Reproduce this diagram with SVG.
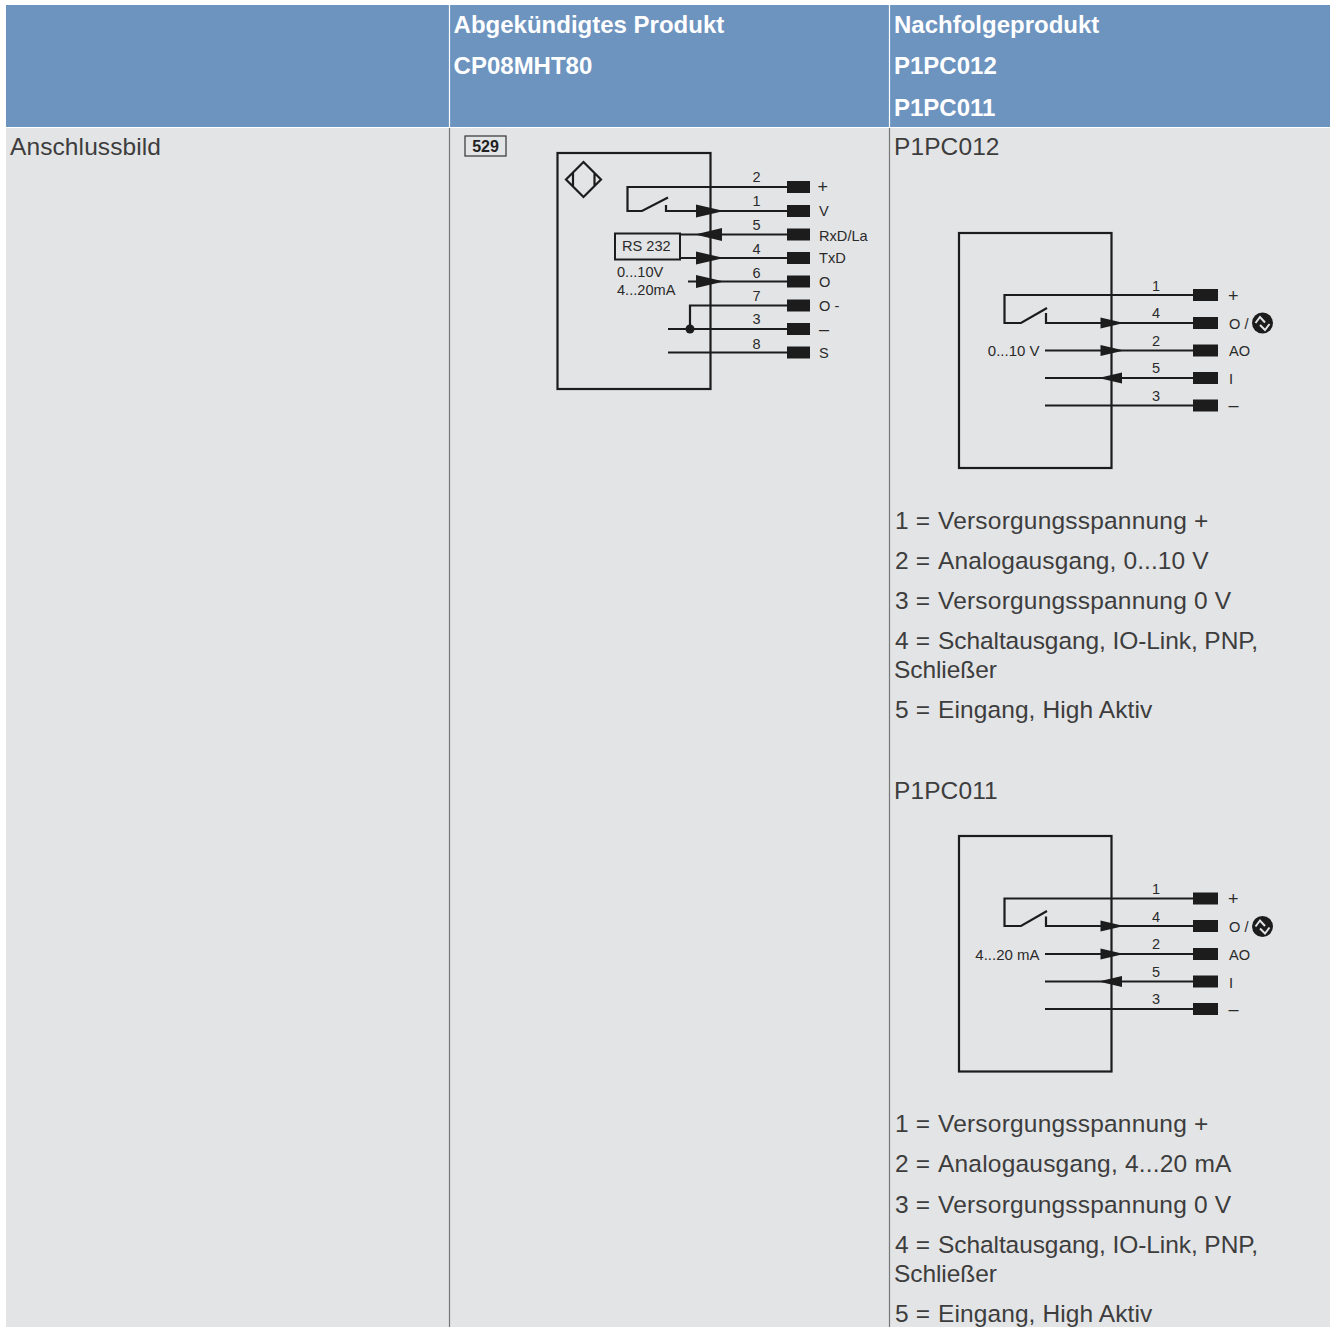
<svg xmlns="http://www.w3.org/2000/svg" width="1337" height="1327" viewBox="0 0 1337 1327">
<style>
text{font-family:"Liberation Sans",Arial,sans-serif}
.h{font-size:24px;font-weight:700;fill:#fff}
.b{font-size:24.5px;fill:#3d3d3d;letter-spacing:.1px}
.e{letter-spacing:.2px}
.c{letter-spacing:-.08px}
.s{font-size:14.6px;fill:#2a2a2a}
.r{font-size:15px;fill:#2a2a2a;text-anchor:end}
.big{font-size:18px;fill:#2a2a2a}
.n{font-size:14.5px;fill:#2a2a2a;text-anchor:middle}
.w{fill:none;stroke:#1c1c1c;stroke-width:2.200}
.p{fill:#1c1c1c;stroke:none}
.z{fill:none;stroke:#e3e4e6;stroke-width:2}
</style>
<g id="table">
<rect x="0" y="0" width="1337" height="1327" fill="#fff"/>
<rect x="6" y="5" width="1324" height="122" fill="#6d93bf"/>
<rect x="6" y="128" width="1324" height="1199" fill="#e3e4e6"/>
<path d="M449.500 5V127M889.500 5V127" stroke="#fff" stroke-width="1.200"/>
<path d="M449.500 128V1327M889.500 128V1327" stroke="#777" stroke-width="1.200"/>
<text class="h" x="453.600" y="33">Abgekündigtes Produkt</text>
<text class="h" x="453.600" y="74">CP08MHT80</text>
<text class="h" x="894" y="33">Nachfolgeprodukt</text>
<text class="h" x="894" y="74">P1PC012</text>
<text class="h" x="894" y="116">P1PC011</text>
<text class="b" x="10" y="155">Anschlussbild</text>
</g>
<g id="badge-529">
<rect x="465" y="136" width="41" height="20" fill="none" stroke="#333" stroke-width="1.200"/>
<text x="485.500" y="151.500" font-size="16" font-weight="700" fill="#222" text-anchor="middle">529</text>
</g>
<g id="old-product-diagram">
<rect class="w" x="557.500" y="153" width="153" height="236"/>
<path class="w" stroke-width="2.500" d="M583.500 162L601 179.500L583.500 197L566 179.500ZM573 172.500V186.500M594.500 172.500V186.500"/>
<g class="connectors">
<path class="w" d="M790 187H627.500V211H642L668 197.500M666 205V211H790M790 234.500H680M680 258H790M688 281.500H790M790 305.500H690V329M668 329H790M668 352.500H790"/>
<circle class="p" cx="690" cy="329" r="4.500"/>
<path class="p" d="M696 204.500L724 211L696 217.500ZM722 228L695 234.500L722 241ZM696 251.500L724 258L696 264.500ZM696 275L724 281.500L696 288Z"/>
</g>
<path class="p" d="M787 181h23v12h-23zM787 205h23v12h-23zM787 228.500h23v12h-23zM787 252h23v12h-23zM787 275.500h23v12h-23zM787 299.500h23v12h-23zM787 323h23v12h-23zM787 346.500h23v12h-23z"/>
<rect x="615" y="233.500" width="65" height="26" fill="none" stroke="#1c1c1c" stroke-width="2"/>
<text class="s" x="622" y="251">RS 232</text>
<text class="s" x="617" y="277">0...10V</text>
<text class="s" x="617" y="295">4...20mA</text>
<text class="n" x="756.500" y="181.500">2</text><text class="n" x="756.500" y="206">1</text><text class="n" x="756.500" y="230">5</text><text class="n" x="756.500" y="254">4</text><text class="n" x="756.500" y="278">6</text><text class="n" x="756.500" y="301">7</text><text class="n" x="756.500" y="324">3</text><text class="n" x="756.500" y="349">8</text>
<text class="big" x="813.500" y="193" dx="4">+</text><text class="s" x="819" y="216">V</text><text class="s" x="819" y="240.500">RxD/La</text><text class="s" x="819" y="263">TxD</text><text class="s" x="819" y="287">O</text><text class="s" x="819" y="311">O -</text><text class="big" x="819" y="335">–</text><text class="s" x="819" y="358">S</text>
</g>
<text class="b" x="894" y="155">P1PC012</text>
<g id="p1pc012-diagram">
<rect class="w" x="959" y="233" width="152.500" height="235"/>
<g class="connectors">
<path class="w" d="M1195 295H1004.500V323H1021L1047 308M1046 313V323H1195M1045 350.500H1195M1045 378H1195M1045 405.500H1195"/>
<path class="p" d="M1100.500 317.500L1124 323L1100.500 328.500ZM1100.500 345L1124 350.500L1100.500 356ZM1122 372.500L1098.500 378L1122 383.500Z"/>
</g>
<path class="p" d="M1193 289h25v12h-25zM1193 317h25v12h-25zM1193 344.500h25v12h-25zM1193 372h25v12h-25zM1193 399.500h25v12h-25z"/>
<text class="r" x="1039.500" y="356">0...10 V</text>
<text class="n" x="1156" y="291">1</text><text class="n" x="1156" y="318">4</text><text class="n" x="1156" y="346">2</text><text class="n" x="1156" y="373">5</text><text class="n" x="1156" y="401">3</text>
<text class="big" x="1228" y="301.500">+</text><text class="s" x="1229" y="329">O /</text><text class="s" x="1229" y="356">AO</text><text class="s" x="1229" y="384">I</text><text class="big" x="1228.500" y="411">–</text>
<circle class="p" cx="1262.500" cy="323" r="10.500"/>
<path class="z" d="M1255.500 323L1260 317L1265 322.500M1260 325L1265 330L1269.500 324"/>
</g>
<g id="p1pc012-legend">
<text class="b" x="895" y="529">1 = <tspan class="e" x="938">Versorgungsspannung +</tspan></text>
<text class="b" x="895" y="569">2 = <tspan x="938">Analogausgang, 0...10 V</tspan></text>
<text class="b" x="895" y="609">3 = <tspan class="e" x="938">Versorgungsspannung 0 V</tspan></text>
<text class="b" x="895" y="649">4 = <tspan class="c" x="938">Schaltausgang, IO-Link, PNP,</tspan></text>
<text class="b c" x="894" y="678">Schließer</text>
<text class="b" x="895" y="718">5 = <tspan x="938">Eingang, High Aktiv</tspan></text>
</g>
<text class="b" x="894" y="799">P1PC011</text>
<g id="p1pc011-diagram">
<rect class="w" x="959" y="836" width="152.500" height="235.500"/>
<g class="connectors">
<path class="w" d="M1195 898.500H1004.500V926H1021L1047 911M1046 916.500V926H1195M1045 954H1195M1045 981.500H1195M1045 1009H1195"/>
<path class="p" d="M1100.500 920.500L1124 926L1100.500 931.500ZM1100.500 948.500L1124 954L1100.500 959.500ZM1122 976L1098.500 981.500L1122 987Z"/>
</g>
<path class="p" d="M1193 892.500h25v12h-25zM1193 920h25v12h-25zM1193 948h25v12h-25zM1193 975.500h25v12h-25zM1193 1003h25v12h-25z"/>
<text class="r" x="1039.500" y="960">4...20 mA</text>
<text class="n" x="1156" y="894">1</text><text class="n" x="1156" y="922">4</text><text class="n" x="1156" y="949">2</text><text class="n" x="1156" y="977">5</text><text class="n" x="1156" y="1004">3</text>
<text class="big" x="1228" y="904.500">+</text><text class="s" x="1229" y="932">O /</text><text class="s" x="1229" y="960">AO</text><text class="s" x="1229" y="988">I</text><text class="big" x="1228.500" y="1014.500">–</text>
<circle class="p" cx="1262.500" cy="926.500" r="10.500"/>
<path class="z" d="M1255.500 926.500L1260 920.500L1265 926M1260 928.500L1265 933.500L1269.500 927.500"/>
</g>
<g id="p1pc011-legend">
<text class="b" x="895" y="1132">1 = <tspan class="e" x="938">Versorgungsspannung +</tspan></text>
<text class="b" x="895" y="1172">2 = <tspan class="e" x="938">Analogausgang, 4...20 mA</tspan></text>
<text class="b" x="895" y="1213">3 = <tspan class="e" x="938">Versorgungsspannung 0 V</tspan></text>
<text class="b" x="895" y="1253">4 = <tspan class="c" x="938">Schaltausgang, IO-Link, PNP,</tspan></text>
<text class="b c" x="894" y="1282">Schließer</text>
<text class="b" x="895" y="1322">5 = <tspan x="938">Eingang, High Aktiv</tspan></text>
</g>
</svg>
